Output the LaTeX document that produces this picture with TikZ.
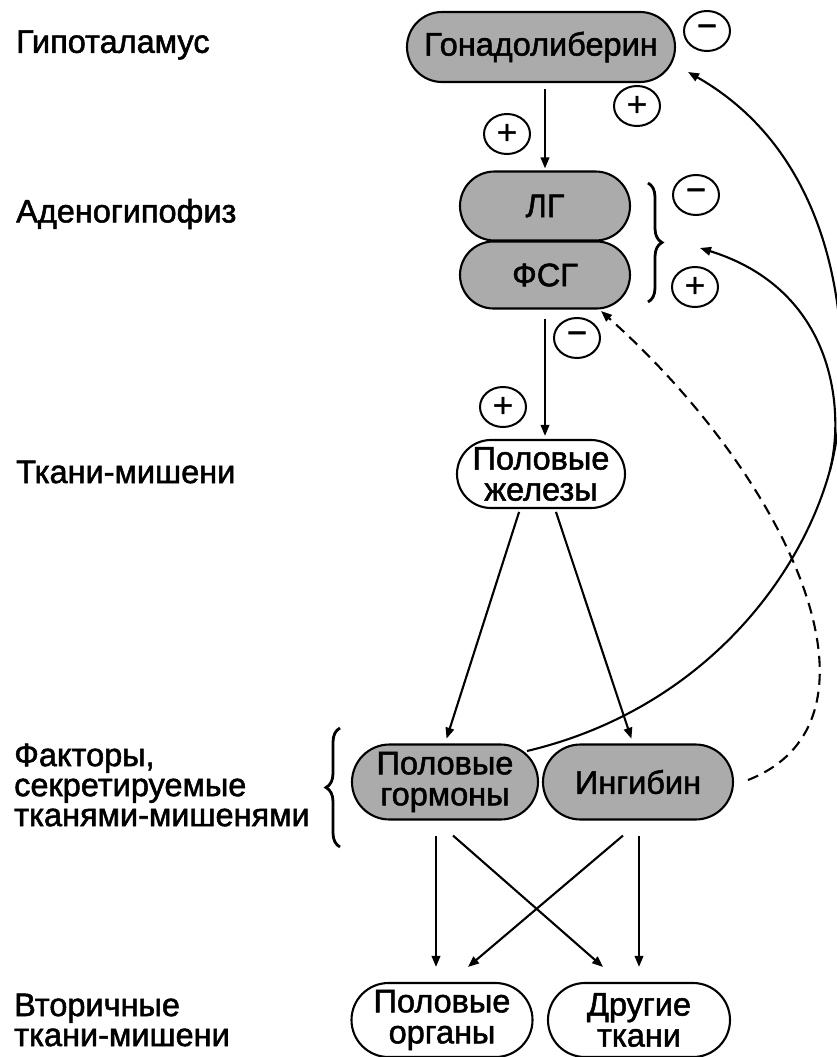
\documentclass[tikz,border=0pt]{standalone}
\usepackage{fontspec}
\setmainfont{Liberation Sans}[FakeBold=1.6]
\usetikzlibrary{shapes.misc,shapes.geometric,arrows.meta,decorations.pathreplacing}
\begin{document}
\begin{tikzpicture}[x=1pt,y=-1pt,
  every node/.style={inner sep=0pt},
  lbl/.style={anchor=west,align=left,font=\fontsize{32.5}{30}\selectfont},
  box/.style={rounded rectangle,draw,line width=2.1pt,align=center,font=\fontsize{32.5}{31}\selectfont},
  gbox/.style={box,fill=black!33},
  sign/.style={ellipse,draw,line width=2pt,minimum width=46pt,minimum height=40pt,font=\fontsize{34}{34}\selectfont},
  arr/.style={line width=2.1pt,-{Triangle[length=11pt,width=8.5pt]}},
  brc/.style={decorate,decoration={brace,amplitude=14pt},line width=2.8pt}]
\useasboundingbox (0,0) rectangle (837,1057);

% left labels
\node[lbl] (l1) at (16,45) {Гипоталамус};
\node[lbl] (l2) at (16,214) {Аденогипофиз};
\node[lbl] (l3) at (16,472) {Ткани-мишени};
\node[lbl] (l4) at (14,785) {Факторы,\\секретируемые\\тканями-мишенями};
\node[lbl] (l5) at (14,1020) {Вторичные\\ткани-мишени};

% boxes
\node[gbox,minimum width=268pt,minimum height=70pt] (gon) at (541,47) {Гонадолиберин};
\node[gbox,minimum width=170pt,minimum height=69pt] (lg) at (545,206) {ЛГ};
\node[gbox,minimum width=170pt,minimum height=67pt] (fsg) at (545,275) {ФСГ};
\node[box,minimum width=168pt,minimum height=68pt] (pzh) at (541,474) {Половые\\железы};
\node[gbox,minimum width=186pt,minimum height=75pt] (pg) at (445,782) {Половые\\гормоны};
\node[gbox,minimum width=190pt,minimum height=75pt] (ing) at (638,782) {Ингибин};
\node[box,minimum width=181pt,minimum height=74pt] (po) at (442,1020) {Половые\\органы};
\node[box,minimum width=182pt,minimum height=74pt] (dt) at (639,1020) {Другие\\ткани};

% signs
\node[sign] (m1) at (707,31) {−};
\node[sign] (p1) at (637,106) {+};
\node[sign] (p2) at (507,134) {+};
\node[sign] (m2) at (696,195) {−};
\node[sign] (p3) at (695,287) {+};
\node[sign] (m3) at (577,338) {−};
\node[sign] (p4) at (503,407) {+};

% braces
\draw[brc] (648,183) -- (648,302);
\draw[brc] (340,847) -- (340,728);

% straight arrows
\draw[arr,shorten <=6pt,shorten >=2pt] (gon.south -| lg.north) -- (lg.north);
\draw[arr,shorten <=9pt,shorten >=3pt] (fsg.south) -- (fsg.south |- pzh.north);
\draw[arr,shorten <=3pt,shorten >=5pt] ([xshift=-21pt]pzh.south) -- (pg.north);
\draw[arr,shorten <=3pt,shorten >=5pt] ([xshift=14pt]pzh.south) -- ([xshift=-5pt]ing.north);
\draw[arr] ([xshift=-9pt,yshift=-15pt]pg.south) -- ([xshift=-6pt,yshift=15pt]po.north);
\draw[arr] ([xshift=8pt,yshift=-15pt]pg.south) -- ([xshift=-36pt,yshift=15pt]dt.north);
\draw[arr] ([xshift=1pt,yshift=-15pt]ing.south) -- ([yshift=15pt]dt.north);
\draw[arr] ([xshift=-15pt,yshift=-15pt]ing.south) -- ([xshift=26pt,yshift=15pt]po.north);

% feedback curves
\coordinate (pgout) at (527,751);
\coordinate (split) at (830,470);
\coordinate (gonin) at (688,72);
\coordinate (brin) at (700,248);
\coordinate (ingout) at (748,780);
\coordinate (fsgin) at (601,311);
\draw[line width=2.1pt] (pgout) .. controls (700,710) and (800,580) .. (split);
\draw[arr] (split) .. controls (852,390) and (860,170) .. (gonin);
\draw[arr] (split) .. controls (845,410) and (835,290) .. (brin);
\draw[arr,dash pattern=on 11pt off 7pt] (ingout) .. controls (900,720) and (790,480) .. (fsgin);
\end{tikzpicture}
\end{document}
